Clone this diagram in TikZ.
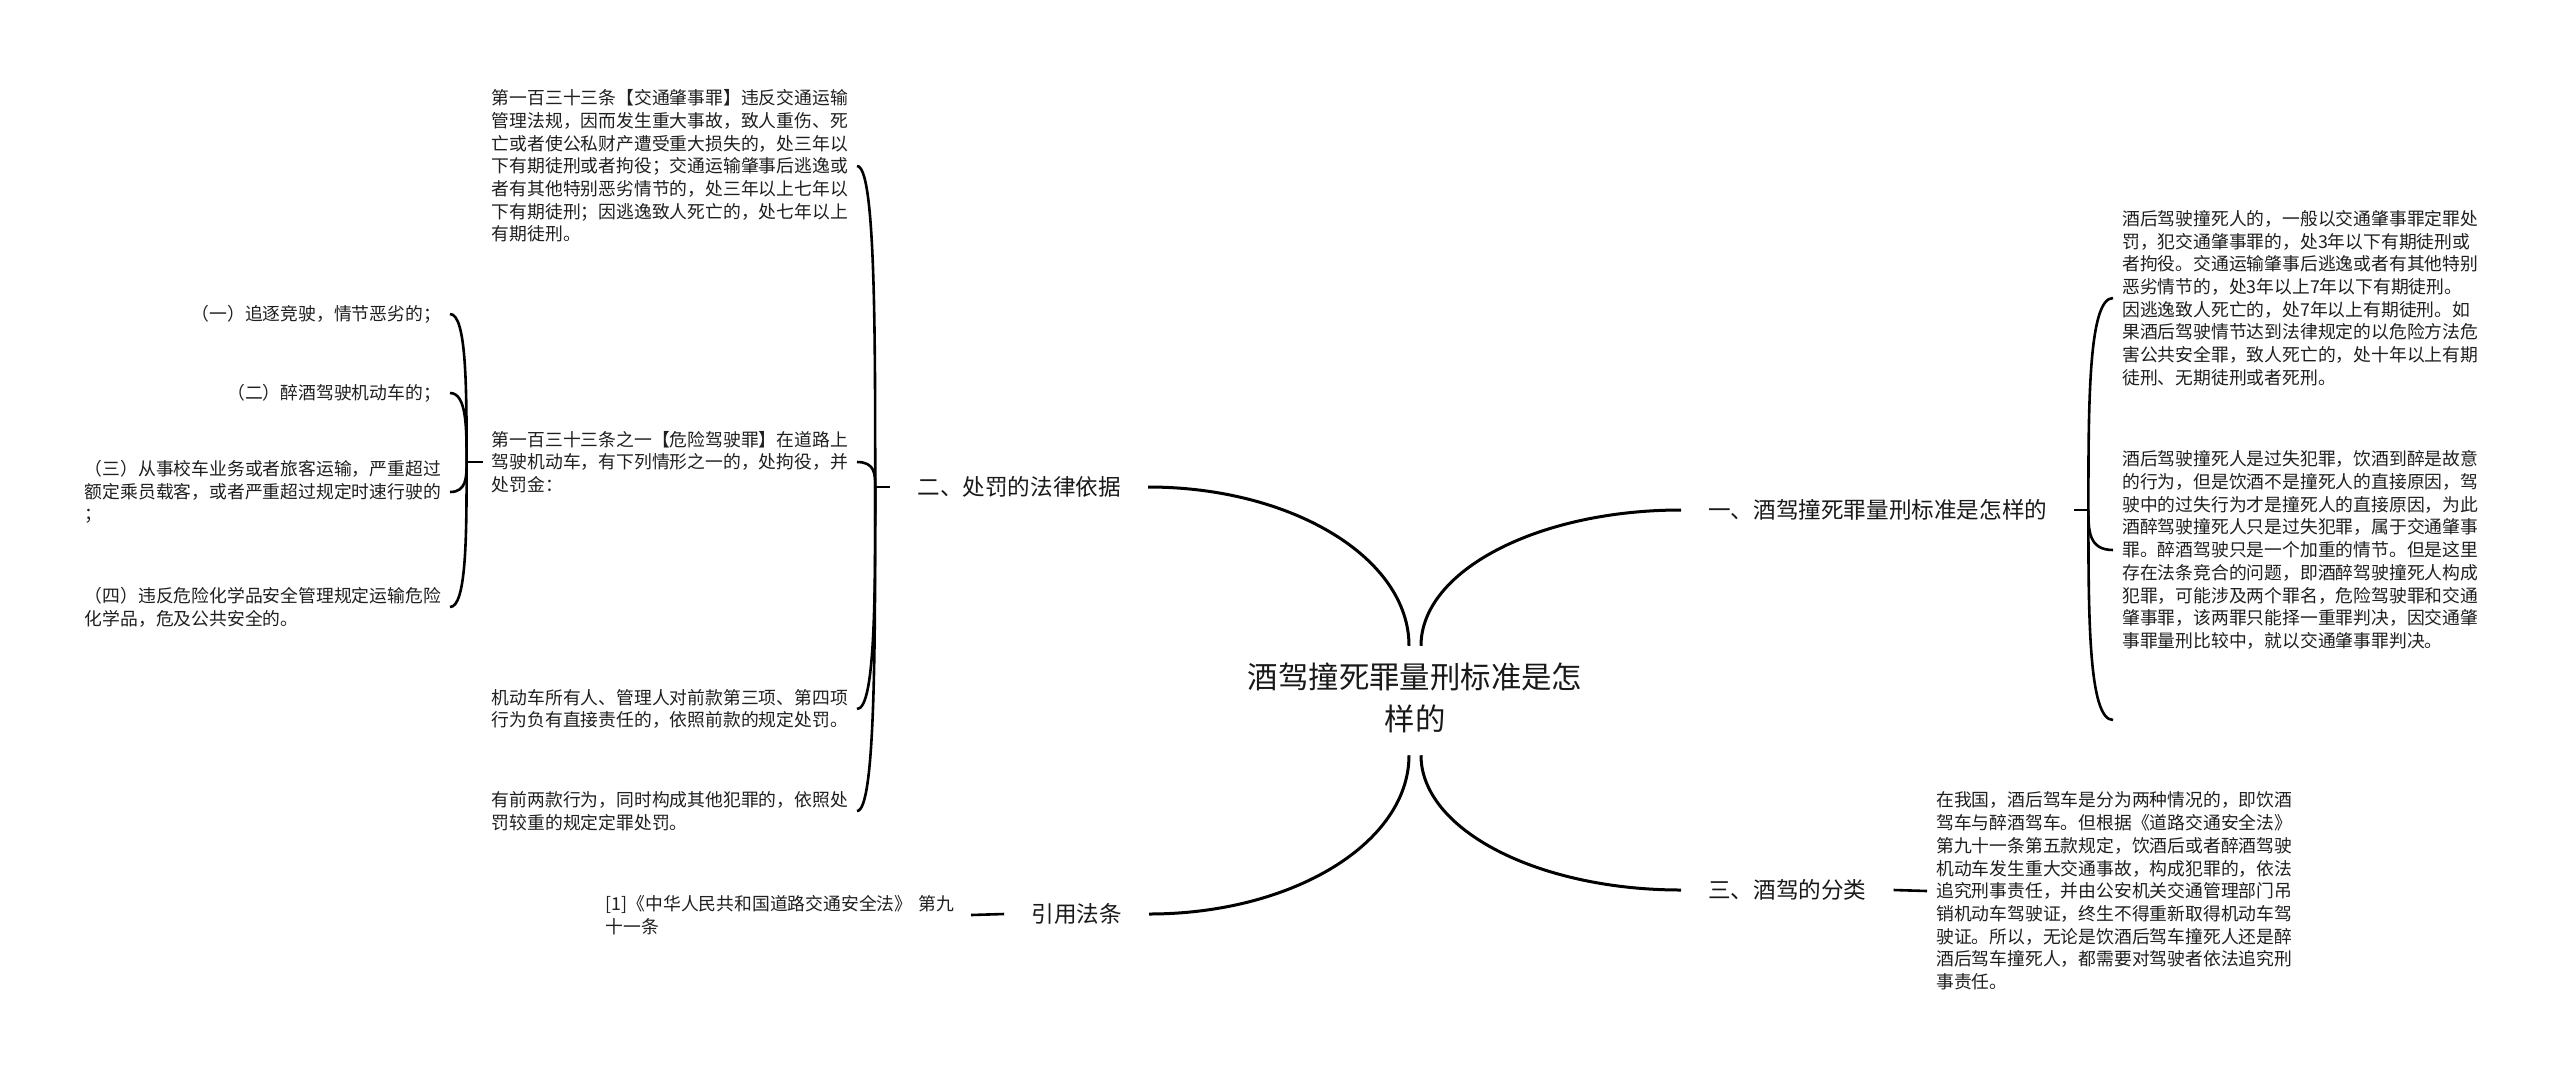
\documentclass[tikz,border=0pt]{standalone}
\usepackage{fontspec}
\setmainfont{Noto Sans CJK SC}
\usetikzlibrary{calc}
\begin{document}
\begin{tikzpicture}[x=1pt,y=-1pt,
  leaf/.style={align=left, inner xsep=9pt, inner ysep=3pt, font=\fontsize{17.8}{22.7}\selectfont, text=black!88},
  branch/.style={inner xsep=27pt, inner ysep=4pt, font=\fontsize{22.6}{27}\selectfont, text=black!90},
  main/.style={line width=3pt, black},
  brk/.style={line width=2.6pt, black},
]
\fill[white] (0,0) rectangle (2560,1077);
\useasboundingbox (0,0) rectangle (2560,1077);

% centre
\node[font=\fontsize{30.4}{42}\selectfont, align=center, inner ysep=17pt, text=black!90] (c) at (1415,698) {酒驾撞死罪量刑标准是怎\\样的};
\coordinate (ctl) at ([xshift=-6pt]c.north);
\coordinate (ctr) at ([xshift=6pt]c.north);
\coordinate (cbl) at ([xshift=-6pt,yshift=-5pt]c.south);
\coordinate (cbr) at ([xshift=6pt,yshift=-5pt]c.south);

% branches
\node[branch, anchor=east] (b2) at (1148,487) {二、处罚的法律依据};
\node[branch, anchor=west] (b1) at (1681,510) {一、酒驾撞死罪量刑标准是怎样的};
\node[branch, anchor=west] (b3) at (1681,890) {三、酒驾的分类};
\node[branch, anchor=east] (b4) at (1149,914) {引用法条};

% main curves
\draw[main] (ctl) .. controls ($(ctl)!0.552!(ctl|-b2.east)$) and ($(b2.east)!0.552!(ctl|-b2.east)$) .. (b2.east);
\draw[main] (ctr) .. controls ($(ctr)!0.552!(ctr|-b1.west)$) and ($(b1.west)!0.552!(ctr|-b1.west)$) .. (b1.west);
\draw[main] (cbl) .. controls ($(cbl)!0.552!(cbl|-b4.east)$) and ($(b4.east)!0.552!(cbl|-b4.east)$) .. (b4.east);
\draw[main] (cbr) .. controls ($(cbr)!0.552!(cbr|-b3.west)$) and ($(b3.west)!0.552!(cbr|-b3.west)$) .. (b3.west);

% left children of branch 二
\node[leaf, anchor=east] (L1) at (857,166) {第一百三十三条【交通肇事罪】违反交通运输\\管理法规，因而发生重大事故，致人重伤、死\\亡或者使公私财产遭受重大损失的，处三年以\\下有期徒刑或者拘役；交通运输肇事后逃逸或\\者有其他特别恶劣情节的，处三年以上七年以\\下有期徒刑；因逃逸致人死亡的，处七年以上\\有期徒刑。};
\node[leaf, anchor=east] (L2) at (857,462) {第一百三十三条之一【危险驾驶罪】在道路上\\驾驶机动车，有下列情形之一的，处拘役，并\\处罚金：};
\node[leaf, anchor=east] (L3) at (857,709) {机动车所有人、管理人对前款第三项、第四项\\行为负有直接责任的，依照前款的规定处罚。};
\node[leaf, anchor=east] (L4) at (857,811) {有前两款行为，同时构成其他犯罪的，依照处\\罚较重的规定定罪处罚。};

\coordinate (k2) at ($(b2.west)+(-15,0)$);
\draw[brk] (b2.west) -- (k2);
\foreach \n in {L1,L2,L3,L4}
  \draw[brk] (k2) .. controls ($(k2)!0.5!(k2|-\n.east)$) and (k2|-\n.east) .. (\n.east);

% sub-children of L2
\node[leaf, anchor=east] (S1) at (450,314) {（一）追逐竞驶，情节恶劣的；};
\node[leaf, anchor=east] (S2) at (450,393) {（二）醉酒驾驶机动车的；};
\node[leaf, anchor=east] (S3) at (450,492) {（三）从事校车业务或者旅客运输，严重超过\\额定乘员载客，或者严重超过规定时速行驶的\\；};
\node[leaf, anchor=east] (S4) at (450,607) {（四）违反危险化学品安全管理规定运输危险\\化学品，危及公共安全的。};

\coordinate (k5) at ($(L2.west)+(-16,0)$);
\draw[brk] (L2.west) -- (k5);
\foreach \n in {S1,S2,S3,S4}
  \draw[brk] (k5) .. controls ($(k5)!0.5!(k5|-\n.east)$) and (k5|-\n.east) .. (\n.east);

% right children of branch 一
\node[leaf, anchor=west] (R1) at (2113,298) {酒后驾驶撞死人的，一般以交通肇事罪定罪处\\罚，犯交通肇事罪的，处3年以下有期徒刑或\\者拘役。交通运输肇事后逃逸或者有其他特别\\恶劣情节的，处3年以上7年以下有期徒刑。\\因逃逸致人死亡的，处7年以上有期徒刑。如\\果酒后驾驶情节达到法律规定的以危险方法危\\害公共安全罪，致人死亡的，处十年以上有期\\徒刑、无期徒刑或者死刑。};
\node[leaf, anchor=west] (R2) at (2113,550) {酒后驾驶撞死人是过失犯罪，饮酒到醉是故意\\的行为，但是饮酒不是撞死人的直接原因，驾\\驶中的过失行为才是撞死人的直接原因，为此\\酒醉驾驶撞死人只是过失犯罪，属于交通肇事\\罪。醉酒驾驶只是一个加重的情节。但是这里\\存在法条竞合的问题，即酒醉驾驶撞死人构成\\犯罪，可能涉及两个罪名，危险驾驶罪和交通\\肇事罪，该两罪只能择一重罪判决，因交通肇\\事罪量刑比较中，就以交通肇事罪判决。};
\coordinate (rt) at (2113,720);

\coordinate (k1) at ($(b1.east)+(14,0)$);
\draw[brk] (b1.east) -- (k1);
\foreach \n in {R1.west,R2.west,rt}
  \draw[brk] (k1) .. controls ($(k1)!0.5!(k1|-\n)$) and (k1|-\n) .. (\n);

% child of branch 三
\node[leaf, anchor=west] (T3) at (1927,891) {在我国，酒后驾车是分为两种情况的，即饮酒\\驾车与醉酒驾车。但根据《道路交通安全法》\\第九十一条第五款规定，饮酒后或者醉酒驾驶\\机动车发生重大交通事故，构成犯罪的，依法\\追究刑事责任，并由公安机关交通管理部门吊\\销机动车驾驶证，终生不得重新取得机动车驾\\驶证。所以，无论是饮酒后驾车撞死人还是醉\\酒后驾车撞死人，都需要对驾驶者依法追究刑\\事责任。};
\draw[brk] (b3.east) -- (T3.west);

% child of 引用法条
\node[leaf, anchor=east, text width=356pt] (ref) at (971,915) {[1]《中华人民共和国道路交通安全法》 第九\\十一条};
\draw[brk] (b4.west) -- (ref.east);

\end{tikzpicture}
\end{document}
